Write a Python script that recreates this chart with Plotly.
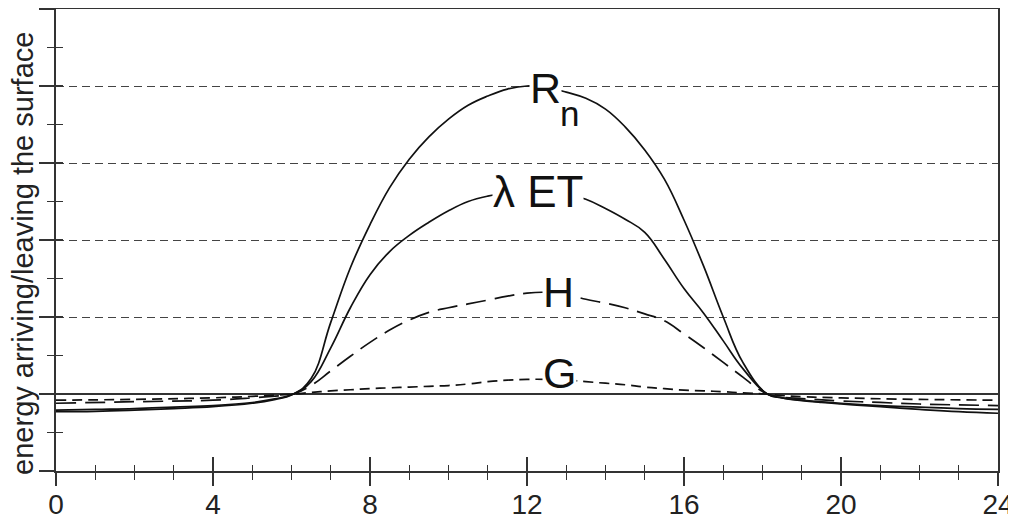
import plotly.graph_objects as go

# ---- data (hours of day, relative energy units) ----
rn_hours = [0, 1, 2, 3, 4, 5, 5.5, 6.05, 6.5, 7.0, 7.5, 8.0, 8.5, 9.0, 9.5, 10.0, 10.5, 11.0, 11.5,
            12.0, 12.5, 13.0, 13.5, 14.0, 14.5, 15.0, 15.5, 16.0, 16.5, 17.0, 17.5, 18.12,
            18.5, 19, 19.5, 20, 21, 22, 23, 24]
rn_vals = [-0.23, -0.225, -0.21, -0.19, -0.165, -0.12, -0.08, 0, 0.2, 0.93, 1.64, 2.2, 2.68, 3.05, 3.34,
           3.57, 3.75, 3.87, 3.96, 4.0, 3.98, 3.92, 3.84, 3.7, 3.47, 3.17, 2.79, 2.26, 1.66, 1.0,
           0.41, 0, -0.05, -0.085, -0.11, -0.13, -0.165, -0.2, -0.23, -0.25]

et_hours = [0, 1, 2, 3, 4, 5, 5.5, 6.05, 6.5, 7.0, 7.5, 8.0, 8.5, 9.0, 9.5, 10.0, 10.5, 11.0, 11.5,
            12.0, 12.5, 13.0, 13.5, 14.0, 14.5, 15.0, 15.5, 16.0, 16.5, 17.0, 17.5, 18.12,
            18.5, 19, 20, 21, 22, 23, 24]
et_vals = [-0.21, -0.2, -0.19, -0.17, -0.15, -0.11, -0.07, 0, 0.16, 0.6, 1.12, 1.55, 1.85, 2.06, 2.23,
           2.38, 2.5, 2.57, 2.61, 2.63, 2.63, 2.6, 2.53, 2.41, 2.27, 2.1, 1.75, 1.37, 1.05, 0.69,
           0.33, 0, -0.05, -0.08, -0.12, -0.15, -0.17, -0.19, -0.2]

h_hours = [0, 2, 4, 5, 5.5, 6.05, 6.5, 7.0, 7.5, 8.0, 8.5, 9.0, 9.5, 10.0, 10.5, 11.0, 11.5,
           12.0, 12.5, 13.0, 13.5, 14.0, 14.5, 15.0, 15.5, 16.0, 16.5, 17.0, 17.5, 17.85, 18.12,
           18.5, 19, 20, 21, 22, 24]
h_vals = [-0.12, -0.1, -0.08, -0.05, -0.03, 0, 0.11, 0.3, 0.49, 0.67, 0.83, 0.96, 1.06, 1.12, 1.17, 1.22,
          1.27, 1.31, 1.32, 1.29, 1.23, 1.18, 1.12, 1.04, 0.95, 0.78, 0.6, 0.41, 0.22, 0.08, 0,
          -0.04, -0.06, -0.09, -0.11, -0.13, -0.15]

g_hours = [0, 2, 4, 5, 6.05, 6.5, 7, 7.5, 8, 8.5, 9, 9.5, 10, 10.5, 11, 11.5, 12, 12.5, 13, 13.5,
           14, 14.5, 15, 15.5, 16, 16.5, 17, 17.5, 18.12, 18.5, 19, 20, 22, 24]
g_vals = [-0.08, -0.07, -0.05, -0.03, 0, 0.02, 0.04, 0.055, 0.07, 0.08, 0.09, 0.1, 0.11, 0.13, 0.16,
          0.18, 0.19, 0.19, 0.18, 0.16, 0.14, 0.12, 0.09, 0.07, 0.05, 0.04, 0.03, 0.015, 0,
          -0.02, -0.035, -0.05, -0.07, -0.08]

x_ticks = [0, 4, 8, 12, 16, 20, 24]

# label texts and positions (hour, value, font size, white background?)
labels = [
    ("R", 12.46, 3.98, 43, True),
    ("n", 13.07, 3.64, 35, False),
    ("λ ET", 12.27, 2.63, 44, True),
    ("H", 12.79, 1.33, 43, True),
    ("G", 12.82, 0.27, 43, True),
]
y_title = "energy arriving/leaving the surface"

FONT = "Arial, Liberation Sans, sans-serif"
INK = "#111111"
AX = "#333333"

fig = go.Figure()
common = dict(mode="lines", hoverinfo="skip")
fig.add_trace(go.Scatter(x=rn_hours, y=rn_vals, line=dict(color=INK, width=1.7, shape="spline", smoothing=1.2), **common))
fig.add_trace(go.Scatter(x=et_hours, y=et_vals, line=dict(color=INK, width=1.7, shape="spline", smoothing=1.2), **common))
fig.add_trace(go.Scatter(x=h_hours, y=h_vals, line=dict(color=INK, width=1.7, dash="20px,9px", shape="spline", smoothing=1.2), **common))
fig.add_trace(go.Scatter(x=g_hours, y=g_vals, line=dict(color=INK, width=1.7, dash="10px,6px", shape="spline", smoothing=1.2), **common))
# invisible traces to activate the overlay (tick-only) axes
fig.add_trace(go.Scatter(x=[0, 24], y=[-1, 5], xaxis="x2", yaxis="y2", mode="lines",
                         line=dict(width=0), hoverinfo="skip", opacity=0))
fig.add_trace(go.Scatter(x=[0, 24], y=[-1, 5], xaxis="x3", yaxis="y2", mode="lines",
                         line=dict(width=0), hoverinfo="skip", opacity=0))

for txt, hx, vy, fs, bg in labels:
    fig.add_annotation(x=hx, y=vy, text=txt, showarrow=False,
                       bgcolor="white" if bg else "rgba(0,0,0,0)",
                       height=34 if bg else None, valign="middle",
                       font=dict(family=FONT, size=fs, color=INK), borderpad=0)

fig.add_annotation(xref="paper", yref="paper", x=-0.035, y=0.47, text=y_title,
                   textangle=-90, showarrow=False, xanchor="center", yanchor="middle",
                   font=dict(family=FONT, size=29, color="#222"))

# page body has an 8px margin, so the figure is 1008x516 to fill the 1016x524 window
fig.update_layout(
    width=1008, height=516,
    margin=dict(l=48, r=18, t=1, b=53),
    paper_bgcolor="white", plot_bgcolor="white",
    showlegend=False,
    xaxis=dict(range=[0, 24], tickmode="array", tickvals=x_ticks, ticktext=[str(t) for t in x_ticks],
               ticks="outside", ticklen=7, tickwidth=1.3, tickcolor=AX,
               minor=dict(ticks="outside", dtick=1, ticklen=7, tickwidth=1.3, tickcolor=AX),
               showline=True, linecolor=AX, linewidth=2, mirror=True,
               showgrid=False, zeroline=False, automargin=False,
               tickfont=dict(family=FONT, size=28, color="#222")),
    xaxis2=dict(range=[0, 24], overlaying="x", anchor="y", side="bottom",
                tickmode="array", tickvals=x_ticks, showticklabels=False,
                ticks="inside", ticklen=14, tickwidth=1.6, tickcolor=AX,
                minor=dict(ticks="inside", dtick=1, ticklen=6, tickwidth=1.3, tickcolor=AX),
                showline=False, showgrid=False, zeroline=False, automargin=False),
    xaxis3=dict(range=[0, 24], overlaying="x", anchor="y", side="bottom",
                tickmode="array", tickvals=x_ticks, showticklabels=False,
                ticks="outside", ticklen=14, tickwidth=1.6, tickcolor=AX,
                showline=False, showgrid=False, zeroline=False, automargin=False),
    yaxis=dict(range=[-1, 5], dtick=1, tick0=0, showticklabels=False,
               ticks="outside", ticklen=15, tickwidth=1.6, tickcolor=AX,
               minor=dict(ticks="outside", dtick=0.5, tick0=0, ticklen=7, tickwidth=1.3, tickcolor=AX),
               showline=True, linecolor=AX, linewidth=2, mirror=True,
               showgrid=True, gridcolor="#444444", gridwidth=1.2, griddash="8px,5px",
               zeroline=True, zerolinecolor=AX, zerolinewidth=1.6, automargin=False),
    yaxis2=dict(range=[-1, 5], overlaying="y", anchor="x", side="left",
                dtick=1, tick0=0, showticklabels=False,
                ticks="inside", ticklen=7, tickwidth=1.6, tickcolor=AX,
                minor=dict(ticks="inside", dtick=0.5, tick0=0, ticklen=7, tickwidth=1.3, tickcolor=AX),
                showline=False, showgrid=False, zeroline=False, automargin=False),
)

fig.write_html("out.html")
